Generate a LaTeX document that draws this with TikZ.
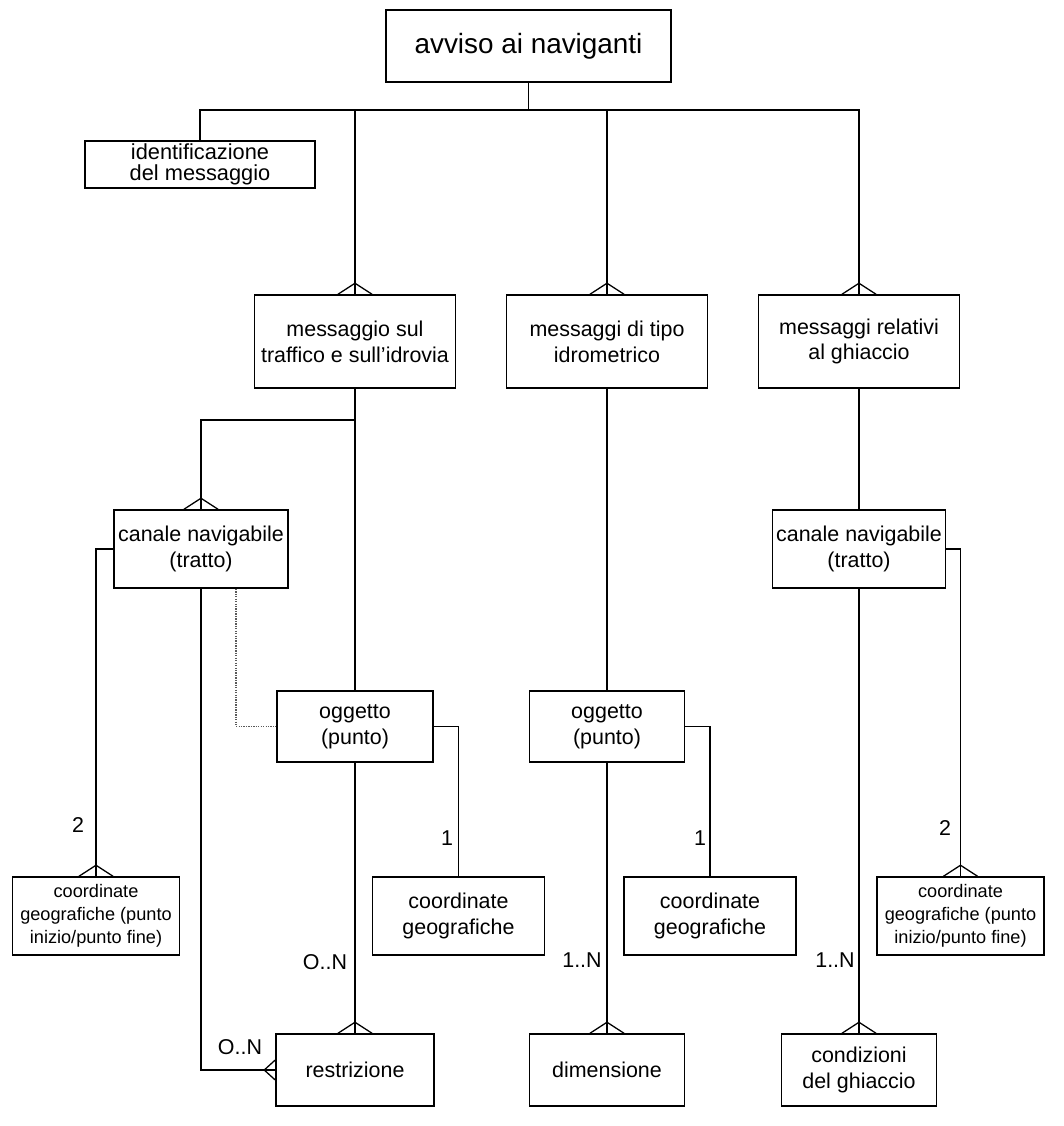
\documentclass[tikz,border=0pt]{standalone}
\usepackage{fontspec}
\setmainfont{Liberation Sans}
\begin{document}
\begin{tikzpicture}[x=0.03cm,y=-0.03cm,
  every path/.style={line width=1.1pt},
  box/.style={draw, line width=1.3pt, inner sep=0pt, align=center, font=\fontsize{18.3}{22}\selectfont},
  smallbox/.style={box, font=\fontsize{15.5}{19.6}\selectfont},
  lbl/.style={font=\fontsize{18.3}{22}\selectfont, inner sep=0pt},
  link/.style={draw, line width=1.1pt},
  dotlink/.style={draw, densely dotted, line width=1.1pt, gray!70!black}
]
\useasboundingbox (0,0) rectangle (1063,1126);
\newcommand{\crowtop}[1]{\draw[line width=1.1pt] ([xshift=-0.51cm]#1.north) -- ([yshift=0.33cm]#1.north) -- ([xshift=0.51cm]#1.north);}
\newcommand{\crowwest}[1]{\draw[line width=1.1pt] ([yshift=0.3cm]#1.west) -- ([xshift=-0.33cm]#1.west) -- ([yshift=-0.3cm]#1.west);}

% nodes
\node[box, minimum width=8.55cm, minimum height=2.16cm, font=\fontsize{23.8}{28}\selectfont] (top) at (528.5,46) {avviso ai naviganti};
\node[box, minimum width=6.9cm, minimum height=1.41cm, font=\fontsize{18.6}{18}\selectfont] (ident) at (200,164.5) {identificazione\\del messaggio};
\node[box, minimum width=6.03cm, minimum height=2.79cm] (traf) at (355,341.5) {messaggio sul\\traffico e sull’idrovia};
\node[box, minimum width=6.03cm, minimum height=2.79cm] (idro) at (607,341.5) {messaggi di tipo\\idrometrico};
\node[box, minimum width=6.03cm, minimum height=2.79cm] (ghi) at (859,341.5) {messaggi relativi\\al ghiaccio};

\node[box, minimum width=5.22cm, minimum height=2.34cm] (canL) at (201,549) {canale navigabile\\(tratto)};
\node[box, minimum width=5.19cm, minimum height=2.34cm] (canR) at (859,549) {canale navigabile\\(tratto)};

\node[box, minimum width=4.68cm, minimum height=2.13cm] (oggL) at (355,726.5) {oggetto\\(punto)};
\node[box, minimum width=4.65cm, minimum height=2.13cm] (oggM) at (607,726.5) {oggetto\\(punto)};

\node[smallbox, minimum width=5.01cm, minimum height=2.34cm] (coordL) at (96,916) {coordinate\\geografiche (punto\\inizio/punto fine)};
\node[box, minimum width=5.16cm, minimum height=2.34cm] (coordML) at (458.5,916) {coordinate\\geografiche};
\node[box, minimum width=5.16cm, minimum height=2.34cm] (coordMR) at (710,916) {coordinate\\geografiche};
\node[smallbox, minimum width=5.01cm, minimum height=2.34cm] (coordR) at (960.5,916) {coordinate\\geografiche (punto\\inizio/punto fine)};

\node[box, minimum width=4.74cm, minimum height=2.16cm] (restr) at (355,1070) {restrizione};
\node[box, minimum width=4.65cm, minimum height=2.16cm] (dim) at (607,1070) {dimensione};
\node[box, minimum width=4.65cm, minimum height=2.16cm] (cond) at (859,1070) {condizioni\\del ghiaccio};

% top bus
\coordinate (bus) at (528.5,110);
\draw (top.south) -- (bus);
\draw (ident.north) |- (bus);
\draw (bus) -| (ghi.north);
\draw (traf.north) -- (traf.north |- bus);
\draw (idro.north) -- (idro.north |- bus);
\crowtop{traf} \crowtop{idro} \crowtop{ghi}

% left column
\coordinate (j1) at (355,420);
\draw (traf.south) -- (oggL.north);
\draw (j1) -| (canL.north);
\crowtop{canL}
\draw (canL.west) -| (coordL.north);
\crowtop{coordL}
\draw (canL.south) |- (restr.west);
\crowwest{restr}
\draw[dotlink] ([xshift=1.05cm]canL.south) |- (oggL.west);
\draw (oggL.east) -| (coordML.north);
\draw (oggL.south) -- (restr.north);
\crowtop{restr}

% middle column
\draw (idro.south) -- (oggM.north);
\draw (oggM.east) -| (coordMR.north);
\draw (oggM.south) -- (dim.north);
\crowtop{dim}

% right column
\draw (ghi.south) -- (canR.north);
\draw (canR.east) -| (coordR.north);
\crowtop{coordR}
\draw (canR.south) -- (cond.north);
\crowtop{cond}

% labels
\node[lbl] (l1) at (78,825) {2};
\node[lbl] (l2) at (447,838) {1};
\node[lbl] (l3) at (700,838) {1};
\node[lbl] (l4) at (945,828) {2};
\node[lbl] (l5) at (325,962) {O..N};
\node[lbl] (l6) at (582,960) {1..N};
\node[lbl] (l7) at (835,960) {1..N};
\node[lbl] (l8) at (240,1047) {O..N};
\end{tikzpicture}
\end{document}
